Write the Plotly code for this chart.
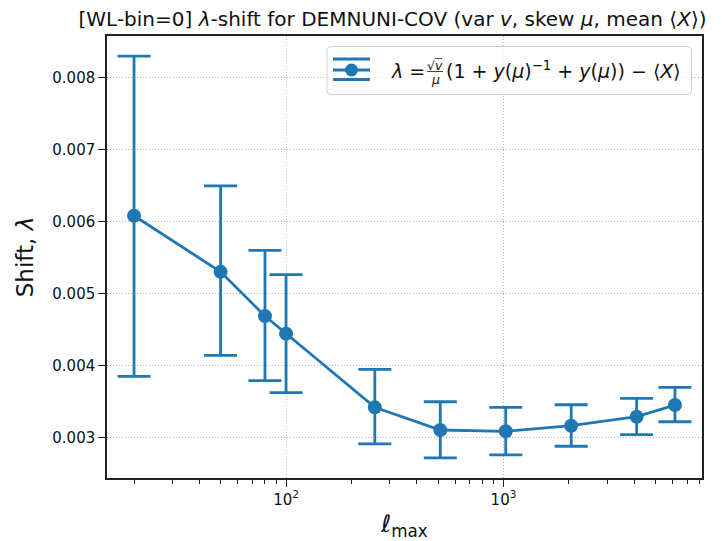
import numpy as np
import plotly.graph_objects as go

# lambda-shift measurements per multipole cut
ell_max = [20, 50, 80, 100, 256, 512, 1024, 2048, 4096, 6144]
shift = [0.00608, 0.00530, 0.004685, 0.004441, 0.003416, 0.003101, 0.003083, 0.003161, 0.003286, 0.003448]
err_up = [0.00222, 0.001195, 0.000913, 0.00082, 0.000529, 0.000393, 0.000333, 0.000291, 0.000255, 0.000245]
err_down = [0.002233, 0.001161, 0.000897, 0.00082, 0.000509, 0.000388, 0.000328, 0.000286, 0.00025, 0.000232]

y_ticks = [0.003, 0.004, 0.005, 0.006, 0.007, 0.008]
x_major = [100, 1000]
x_major_text = ["10<sup>2</sup>", "10<sup>3</sup>"]

BLUE = "#1f77b4"
FONT = "DejaVu Sans"
W, H = 722, 541
L, R, T, B = 107, 20, 36, 63
PW, PH = W - L - R, H - T - B

# axis limits with 5% padding (log space for x)
lx = np.log10(ell_max)
xpad = 0.05 * (lx.max() - lx.min())
x_range = [lx.min() - xpad, lx.max() + xpad]
lo = np.array(shift) - np.array(err_down)
hi = np.array(shift) + np.array(err_up)
ypad = 0.05 * (hi.max() - lo.min())
y_range = [lo.min() - ypad, hi.max() + ypad]

minor_vals = [m * 10 ** e for e in (1, 2, 3) for m in range(2, 10)]
minor_vals = [v for v in minor_vals if x_range[0] < np.log10(v) < x_range[1] and v not in x_major]

fig = go.Figure()
fig.add_trace(go.Scatter(
    x=ell_max, y=shift, mode="lines+markers",
    line=dict(color=BLUE, width=2.8),
    marker=dict(color=BLUE, size=14),
    error_y=dict(type="data", symmetric=False, array=err_up, arrayminus=err_down,
                 color=BLUE, thickness=2.8, width=16.5),
    showlegend=False,
))


def px(x):
    return (x - L) / PW


def py(y):
    return (H - B - y) / PH


# legend frame (rounded box)
x0, x1, y0, y1, r = 327, 691.5, 46.5, 94.5, 4
path = (f"M {px(x0 + r)},{py(y0)} L {px(x1 - r)},{py(y0)} Q {px(x1)},{py(y0)} {px(x1)},{py(y0 + r)} "
        f"L {px(x1)},{py(y1 - r)} Q {px(x1)},{py(y1)} {px(x1 - r)},{py(y1)} "
        f"L {px(x0 + r)},{py(y1)} Q {px(x0)},{py(y1)} {px(x0)},{py(y1 - r)} "
        f"L {px(x0)},{py(y0 + r)} Q {px(x0)},{py(y0)} {px(x0 + r)},{py(y0)} Z")
shapes = [dict(type="path", path=path, xref="paper", yref="paper",
               fillcolor="rgba(255,255,255,0.8)", line=dict(color="#d0d0d0", width=1))]
# legend handle: line, caps and marker
for yy in (59, 70, 79.5):
    shapes.append(dict(type="line", xref="paper", yref="paper", x0=px(333), x1=px(370),
                       y0=py(yy), y1=py(yy), line=dict(color=BLUE, width=2.8)))
shapes.append(dict(type="circle", xref="paper", yref="paper", x0=px(345), x1=px(358),
                   y0=py(76.5), y1=py(63.5), fillcolor=BLUE, line=dict(color=BLUE, width=0)))
# fraction bar and radical overbar
shapes.append(dict(type="line", xref="paper", yref="paper", x0=px(427), x1=px(443),
                   y0=py(71.5), y1=py(71.5), line=dict(color="#111", width=0.8)))
shapes.append(dict(type="line", xref="paper", yref="paper", x0=px(434.5), x1=px(442),
                   y0=py(58.5), y1=py(58.5), line=dict(color="#111", width=0.7)))

txt = dict(family=FONT, size=19, color="#111")
small = dict(family=FONT, size=12.5, color="#111")
annotations = [
    dict(text="<i>λ</i> =", x=px(389), y=py(71), xref="paper", yref="paper",
         xanchor="left", yanchor="middle", showarrow=False, font=txt),
    dict(text="√<i>v</i>", x=px(435), y=py(65), xref="paper", yref="paper",
         xanchor="center", yanchor="middle", showarrow=False, font=small),
    dict(text="<i>μ</i>", x=px(435), y=py(79), xref="paper", yref="paper",
         xanchor="center", yanchor="middle", showarrow=False, font=small),
    dict(text="(1 + <i>y</i>(<i>μ</i>)<sup>−1</sup> + <i>y</i>(<i>μ</i>)) − ⟨<i>X</i>⟩",
         x=px(444), y=py(70), xref="paper", yref="paper",
         xanchor="left", yanchor="middle", showarrow=False, font=txt),
]

axis_common = dict(
    showline=True, mirror=True, linecolor="#222", linewidth=1.5,
    ticks="outside", ticklen=7, tickwidth=1.3, tickcolor="#222",
    showgrid=True, gridcolor="#b8b8b8", griddash="1px,2px", gridwidth=1,
    zeroline=False, automargin=False,
    tickfont=dict(family=FONT, size=15, color="#111"),
)

fig.update_layout(
    width=W, height=H, margin=dict(l=L, r=R, t=T, b=B),
    paper_bgcolor="white", plot_bgcolor="white",
    font=dict(family=FONT, color="#111"),
    title=dict(text="[WL-bin=0] <i>λ</i>-shift for DEMNUNI-COV (var <i>v</i>, skew <i>μ</i>, mean ⟨<i>X</i>⟩)",
               x=392.5 / W, xref="container", xanchor="center", y=1 - 19 / H, yanchor="middle",
               font=dict(family=FONT, size=20, color="#111")),
    xaxis=dict(type="log", range=x_range, tickvals=x_major, ticktext=x_major_text,
               title=dict(text="<i>ℓ</i><sub>max</sub>", font=dict(family=FONT, size=24), standoff=8),
               minor=dict(tickvals=minor_vals, ticks="outside", ticklen=4, tickcolor="#222",
                          tickwidth=1, showgrid=False),
               **axis_common),
    yaxis=dict(range=y_range, tickvals=y_ticks, tickformat=".3f",
               title=dict(text="Shift, <i>λ</i>", font=dict(family=FONT, size=23), standoff=12),
               **axis_common),
    shapes=shapes, annotations=annotations,
)

fig.write_html("out.html")
